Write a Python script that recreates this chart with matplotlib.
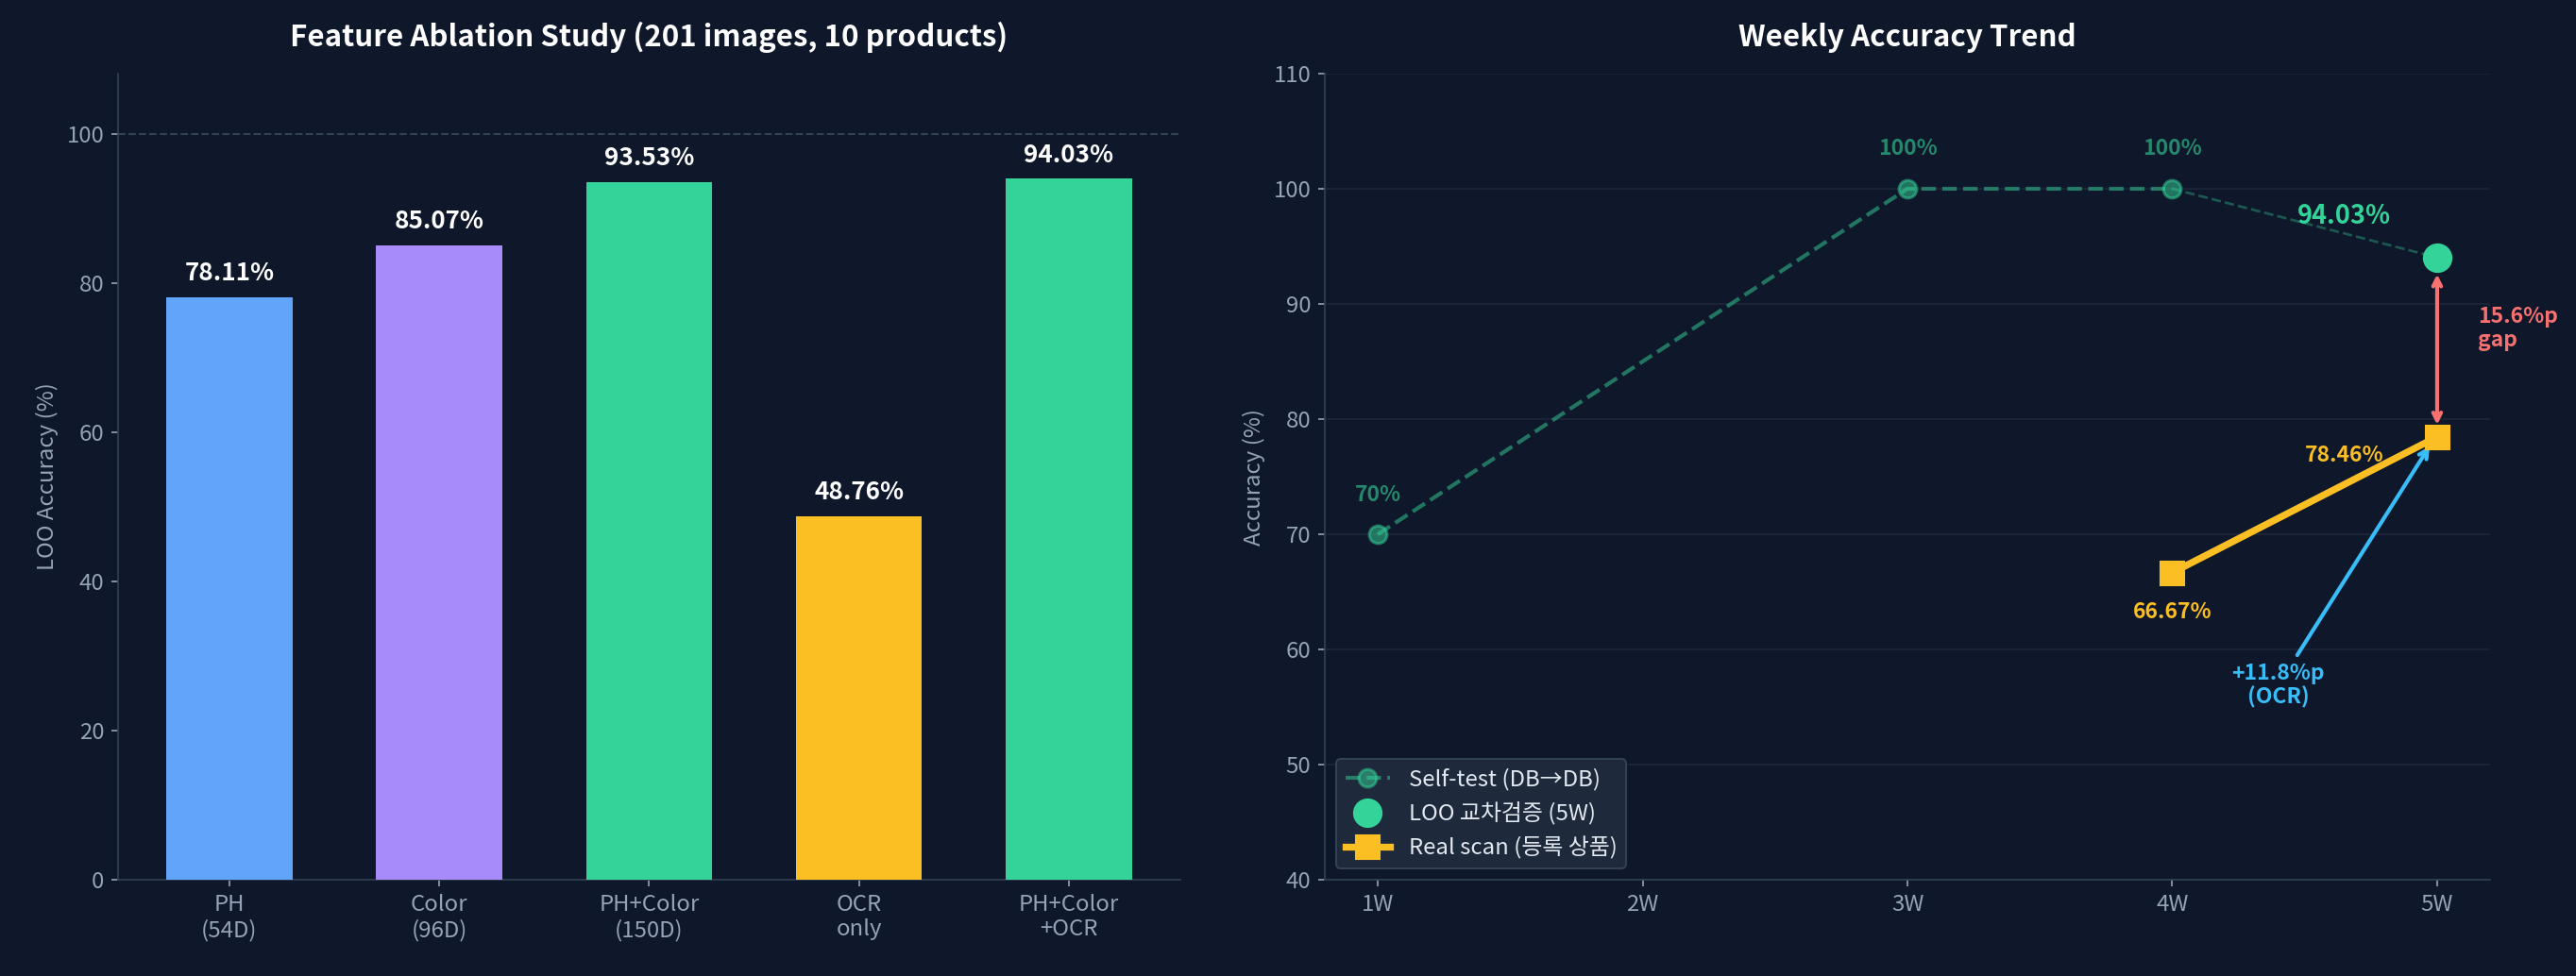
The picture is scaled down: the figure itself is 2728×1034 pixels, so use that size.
import numpy as np
import matplotlib
matplotlib.use("Agg")
import matplotlib.pyplot as plt

plt.rcParams['font.family'] = ['Noto Sans CJK KR', 'DejaVu Sans']

# ---- data ----
feature_labels = ["PH\n(54D)", "Color\n(96D)", "PH+Color\n(150D)", "OCR\nonly", "PH+Color\n+OCR"]
feature_acc = [78.11, 85.07, 93.53, 48.76, 94.03]
bar_colors = ["#60a5fa", "#a78bfa", "#34d399", "#fbbf24", "#34d399"]

week_labels = ["1W", "2W", "3W", "4W", "5W"]
week_pos = [1, 2, 3, 4, 5]
self_test_x = [1, 3, 4]
self_test_y = [70, 100, 100]
loo_x = 5
loo_y = 94.03
real_x = [4, 5]
real_y = [66.67, 78.46]

BG = "#0f172a"
GRID = "#1a2436"
SPINE = "#334155"
TICK = "#94a3b8"
GREEN = "#34d399"
YELLOW = "#fbbf24"
RED = "#f87171"
CYAN = "#38bdf8"

fig = plt.figure(figsize=(2729 / 150, 1034 / 150), dpi=150)
fig.patch.set_facecolor(BG)

ax1 = fig.add_axes([0.0458, 0.0986, 0.4122, 0.826])
ax2 = fig.add_axes([0.5141, 0.0986, 0.4522, 0.826])

for ax in (ax1, ax2):
    ax.set_facecolor(BG)
    for s in ("top", "right"):
        ax.spines[s].set_visible(False)
    for s in ("left", "bottom"):
        ax.spines[s].set_color(SPINE)
    ax.tick_params(colors=TICK, labelsize=11.5)

# ---- left: ablation bars ----
x = np.arange(len(feature_labels))
ax1.bar(x, feature_acc, width=0.6, color=bar_colors, zorder=3)
for xi, v in zip(x, feature_acc):
    ax1.text(xi, v + 1.5, f"{v:.2f}%", ha="center", va="bottom",
             color="white", fontsize=12.5, fontweight="bold")
ax1.axhline(100, color=SPINE, linestyle="--", linewidth=1, zorder=1)
ax1.set_xticks(x)
ax1.set_xticklabels(feature_labels)
ax1.set_ylim(0, max(feature_acc) * 1.15)
ax1.set_yticks([0, 20, 40, 60, 80, 100])
ax1.set_ylabel("LOO Accuracy (%)", color=TICK, fontsize=11.5)
ax1.set_title("Feature Ablation Study (201 images, 10 products)",
              color="white", fontsize=15, fontweight="bold", pad=14)

# ---- right: weekly trend ----
ax2.grid(axis="y", color=GRID, linewidth=1, zorder=0)
ax2.set_axisbelow(True)
ax2.plot(self_test_x, self_test_y, linestyle="--", color=GREEN, alpha=0.5,
         linewidth=2, marker="o", markersize=9, markeredgewidth=1.5,
         label="Self-test (DB\u2192DB)", zorder=3)
ax2.plot([self_test_x[-1], loo_x], [self_test_y[-1], loo_y], linestyle="--",
         color=GREEN, alpha=0.35, linewidth=1.3, zorder=2)
ax2.plot([loo_x], [loo_y], linestyle="none", marker="o", markersize=14,
         color=GREEN, label="LOO 교차검증 (5W)", zorder=5)
ax2.plot(real_x, real_y, color=YELLOW, linewidth=3.5, marker="s", markersize=12,
         label="Real scan (등록 상품)", zorder=4)

for xi, yi in zip(self_test_x, self_test_y):
    ax2.text(xi, yi + 2.5, f"{yi}%", ha="center", va="bottom", color=GREEN,
             alpha=0.6, fontsize=11, fontweight="bold")
ax2.text(4.65, 97.6, f"{loo_y:.2f}%", ha="center", va="center", color=GREEN,
         fontsize=13, fontweight="bold")
ax2.text(real_x[1] - 0.35, real_y[1] - 1.6, f"{real_y[1]:.2f}%", ha="center", va="center",
         color=YELLOW, fontsize=11, fontweight="bold")
ax2.text(real_x[0], real_y[0] - 3.4, f"{real_y[0]:.2f}%", ha="center", va="center",
         color=YELLOW, fontsize=11, fontweight="bold")

ax2.annotate("", xy=(loo_x, real_y[1] + 0.7), xytext=(loo_x, loo_y - 1.1),
             arrowprops=dict(arrowstyle="<->", color=RED, lw=2))
ax2.text(5.155, 87.9, f"{loo_y - real_y[1]:.1f}%p\ngap", ha="left", va="center",
         color=RED, fontsize=11, fontweight="bold", linespacing=1.1)
ax2.annotate(f"+{real_y[1] - real_y[0]:.1f}%p\n(OCR)", xy=(real_x[1] - 0.02, real_y[1] - 0.5),
             xytext=(4.4, 56.9), ha="center", va="center", color=CYAN,
             fontsize=11, fontweight="bold", linespacing=1.1,
             arrowprops=dict(arrowstyle="->", color=CYAN, lw=2))

ax2.set_xlim(0.8, 5.2)
ax2.set_ylim(40, 110)
ax2.set_xticks(week_pos)
ax2.set_xticklabels(week_labels)
ax2.set_ylabel("Accuracy (%)", color=TICK, fontsize=11.5)
ax2.set_title("Weekly Accuracy Trend", color="white", fontsize=15,
              fontweight="bold", pad=14)
leg = ax2.legend(loc="lower left", facecolor="#1e293b", edgecolor=SPINE,
                 fontsize=11.5, labelcolor="#e2e8f0", framealpha=1)

fig.savefig("out.png", dpi=150, facecolor=BG)
